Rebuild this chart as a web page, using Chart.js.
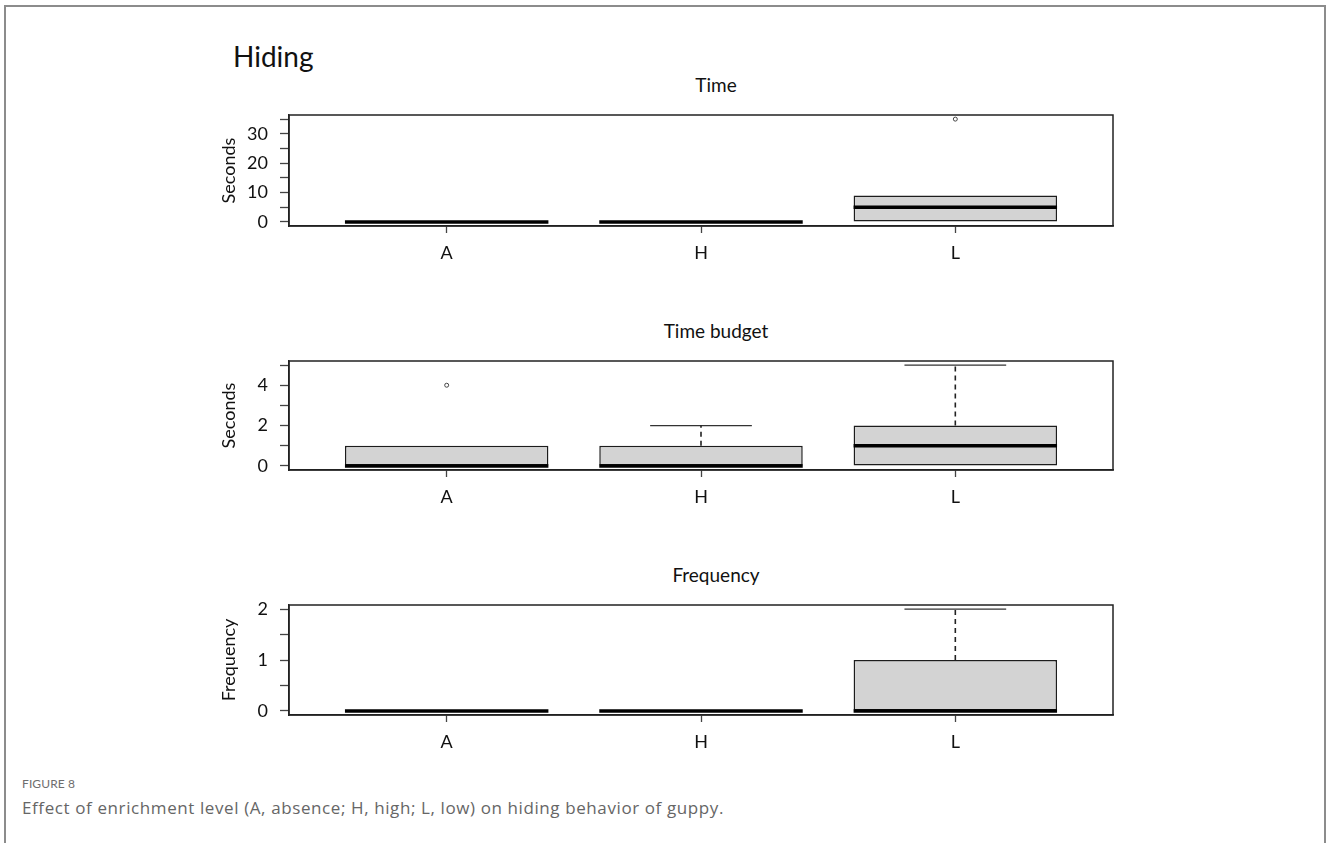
<!DOCTYPE html>
<html>
<head>
<meta charset="utf-8">
<title>Hiding</title>
<script src="https://cdn.jsdelivr.net/npm/chart.js@4.4.1/dist/chart.umd.min.js"></script>
<style>
  html, body { margin: 0; padding: 0; background: #fff; }
  body { width: 1328px; height: 843px; position: relative; overflow: hidden; font-family: Lato, "Open Sans", sans-serif; }
  .frame { position: absolute; left: 4px; top: 5px; width: 1318px; height: 900px; border: 2px solid #8c8c8c; border-bottom: none; }
  .fig-title { position: absolute; left: 233px; top: 42px; font-size: 28px; line-height: 1; color: #111; }
  .panel { position: absolute; left: 200px; }
  .panel-title { position: absolute; left: 516px; width: 400px; text-align: center; font-size: 19px; line-height: 1; color: #111; }
  .cap-label { position: absolute; left: 22px; top: 778px; font-size: 12px; line-height: 1; color: #6e6e6e; letter-spacing: 0.1px; }
  .cap-text { position: absolute; left: 22px; top: 798px; font-family: "Open Sans", sans-serif; font-size: 17px; line-height: 1.2; color: #666; letter-spacing: 0.6px; }
</style>
</head>
<body>
<div class="frame"></div>
<div class="fig-title">Hiding</div>
<div class="panel-title" style="top:75px">Time</div>
<div class="panel-title" style="top:321px">Time budget</div>
<div class="panel-title" style="top:565px">Frequency</div>
<canvas id="timeChart" class="panel" width="1026" height="196" style="top:70px;width:1026px;height:196px"></canvas>
<canvas id="budgetChart" class="panel" width="1026" height="194" style="top:316px;width:1026px;height:194px"></canvas>
<canvas id="freqChart" class="panel" width="1026" height="195" style="top:560px;width:1026px;height:195px"></canvas>
<div class="cap-label">FIGURE 8</div>
<div class="cap-text">Effect of enrichment level (A, absence; H, high; L, low) on hiding behavior of guppy.</div>

<script>
// Enrichment levels and their positions on the x axis
const categories = ['A', 'H', 'L'];
const positions = [1, 2, 3];

// Time (seconds)
const timeQ1 = [0, 0, 0];
const timeMedian = [0, 0, 5];
const timeQ3 = [0, 0, 9];
const timeLowerWhisker = [0, 0, 0];
const timeUpperWhisker = [0, 0, 9];
const timeOutliers = [[], [], [35]];
const timeTicks = [0, 5, 10, 15, 20, 25, 30, 35];
const timeTickLabels = [0, 10, 20, 30];

// Time budget (seconds)
const budgetQ1 = [0, 0, 0];
const budgetMedian = [0, 0, 1];
const budgetQ3 = [1, 1, 2];
const budgetLowerWhisker = [0, 0, 0];
const budgetUpperWhisker = [1, 2, 5];
const budgetOutliers = [[4], [], []];
const budgetTicks = [0, 1, 2, 3, 4, 5];
const budgetTickLabels = [0, 2, 4];

// Frequency
const freqQ1 = [0, 0, 0];
const freqMedian = [0, 0, 0];
const freqQ3 = [0, 0, 1];
const freqLowerWhisker = [0, 0, 0];
const freqUpperWhisker = [0, 0, 2];
const freqOutliers = [[], [], []];
const freqTicks = [0, 0.5, 1, 1.5, 2];
const freqTickLabels = [0, 1, 2];

const FONT = 'Lato, "Open Sans", sans-serif';
const BOX_HALF = 0.4;     // half box width in x units
const STAPLE_HALF = 0.2;  // half whisker-cap width in x units

// Draws the closed rectangle around the plotting region
const plotFrame = {
  id: 'plotFrame',
  afterDraw(chart) {
    const { ctx, chartArea: a } = chart;
    ctx.save();
    ctx.strokeStyle = '#222';
    ctx.lineWidth = 1.5;
    ctx.strokeRect(a.left, a.top, a.right - a.left, a.bottom - a.top);
    ctx.restore();
  }
};

function segment(points, width, color, dash) {
  return {
    type: 'line',
    data: points,
    borderColor: color,
    borderWidth: width,
    borderDash: dash || [],
    borderCapStyle: 'butt',
    pointRadius: 0,
    pointHoverRadius: 0,
    fill: false,
    tension: 0,
    order: 0
  };
}

function buildBoxplot(id, cfg) {
  const datasets = [];

  // Interquartile boxes as floating bars
  datasets.push({
    type: 'bar',
    data: positions.map((x, i) => ({ x, y: [cfg.q1[i], cfg.q3[i]] })),
    backgroundColor: '#d3d3d3',
    borderColor: '#1c1c1c',
    borderWidth: 1.5,
    borderSkipped: false,
    barPercentage: 2 * BOX_HALF,
    categoryPercentage: 1,
    order: 3
  });

  positions.forEach((x, i) => {
    // Upper whisker and staple
    if (cfg.upper[i] > cfg.q3[i]) {
      datasets.push(segment([{ x, y: cfg.q3[i] }, { x, y: cfg.upper[i] }], 1.6, '#222', [5, 4]));
      datasets.push(segment([{ x: x - STAPLE_HALF, y: cfg.upper[i] }, { x: x + STAPLE_HALF, y: cfg.upper[i] }], 1.3, '#333'));
    }
    // Lower whisker and staple
    if (cfg.lower[i] < cfg.q1[i]) {
      datasets.push(segment([{ x, y: cfg.q1[i] }, { x, y: cfg.lower[i] }], 1.6, '#222', [5, 4]));
      datasets.push(segment([{ x: x - STAPLE_HALF, y: cfg.lower[i] }, { x: x + STAPLE_HALF, y: cfg.lower[i] }], 1.3, '#333'));
    }
    // Median
    datasets.push(segment([{ x: x - BOX_HALF, y: cfg.median[i] }, { x: x + BOX_HALF, y: cfg.median[i] }], 3.5, '#000'));
  });

  // Outlying values
  datasets.push({
    type: 'scatter',
    data: positions.flatMap((x, i) => cfg.outliers[i].map(v => ({ x, y: v }))),
    pointStyle: 'circle',
    pointRadius: 2,
    pointBorderWidth: 1,
    pointBorderColor: '#444',
    pointBackgroundColor: '#fff',
    order: 0
  });

  // R-style axis extension: 4% beyond the data range
  const lo = Math.min(...cfg.ticks), hi = Math.max(...cfg.ticks);
  const ext = (hi - lo) * 0.04;

  return new Chart(document.getElementById(id), {
    type: 'bar',
    data: { datasets },
    plugins: [plotFrame],
    options: {
      responsive: false,
      animation: false,
      events: [],
      layout: { padding: { left: 0, right: 113, top: 45, bottom: 0 } },
      plugins: {
        legend: { display: false },
        tooltip: { enabled: false },
        title: { display: false }
      },
      scales: {
        x: {
          type: 'linear',
          min: 1 - 0.5 - 0.12,
          max: categories.length + 0.5 + 0.12,
          offset: false,
          afterBuildTicks: s => { s.ticks = positions.map(v => ({ value: v })); },
          afterFit: s => { s.height = 40; },
          ticks: {
            autoSkip: false,
            maxRotation: 0,
            padding: 9,
            color: '#111',
            font: { family: FONT, size: 18 },
            callback: v => categories[positions.indexOf(v)] || ''
          },
          grid: { display: true, drawOnChartArea: false, drawTicks: true, tickLength: 7, tickColor: '#444', tickWidth: 1.3, offset: false },
          border: { display: true, color: '#222', width: 1.5 }
        },
        y: {
          type: 'linear',
          min: lo - ext,
          max: hi + ext,
          afterBuildTicks: s => { s.ticks = cfg.ticks.map(v => ({ value: v })); },
          afterFit: s => { s.width = 89; },
          ticks: {
            autoSkip: false,
            padding: 12,
            color: '#111',
            font: { family: FONT, size: 18 },
            callback: v => cfg.tickLabels.includes(v) ? String(v) : ''
          },
          grid: { display: true, drawOnChartArea: false, drawTicks: true, tickLength: 9, tickColor: '#444', tickWidth: 1.3 },
          border: { display: true, color: '#222', width: 1.5 },
          title: {
            display: true,
            text: cfg.yTitle,
            color: '#111',
            font: { family: FONT, size: 18 },
            padding: { top: 18, bottom: 0 }
          }
        }
      }
    }
  });
}

buildBoxplot('timeChart', {
  yTitle: 'Seconds',
  q1: timeQ1, median: timeMedian, q3: timeQ3,
  lower: timeLowerWhisker, upper: timeUpperWhisker, outliers: timeOutliers,
  ticks: timeTicks, tickLabels: timeTickLabels
});

buildBoxplot('budgetChart', {
  yTitle: 'Seconds',
  q1: budgetQ1, median: budgetMedian, q3: budgetQ3,
  lower: budgetLowerWhisker, upper: budgetUpperWhisker, outliers: budgetOutliers,
  ticks: budgetTicks, tickLabels: budgetTickLabels
});

buildBoxplot('freqChart', {
  yTitle: 'Frequency',
  q1: freqQ1, median: freqMedian, q3: freqQ3,
  lower: freqLowerWhisker, upper: freqUpperWhisker, outliers: freqOutliers,
  ticks: freqTicks, tickLabels: freqTickLabels
});
</script>
</body>
</html>
